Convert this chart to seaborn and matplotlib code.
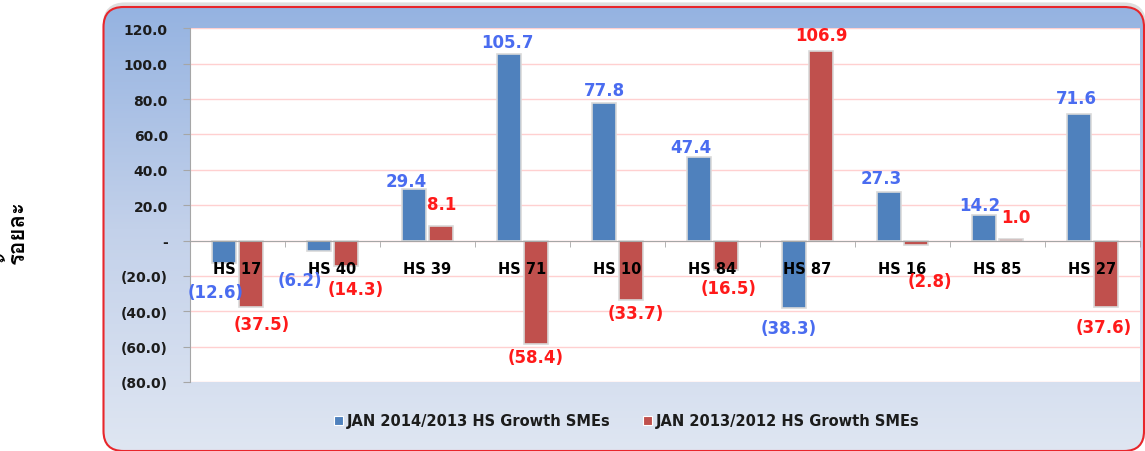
"""
plot.py
-------
SME export growth by HS code, January 2014/2013 vs 2013/2012.
"""

import matplotlib.pyplot as plt
import numpy as np
import pandas as pd
import seaborn as sns
from matplotlib import font_manager
from matplotlib.colors import LinearSegmentedColormap
from matplotlib.ft2font import FT2Font
from matplotlib.patches import FancyBboxPatch, Patch

CODES = ["HS 17", "HS 40", "HS 39", "HS 71", "HS 10", "HS 84", "HS 87", "HS 16", "HS 85", "HS 27"]
GROWTH_2014 = [-12.6, -6.2, 29.4, 105.7, 77.8, 47.4, -38.3, 27.3, 14.2, 71.6]
GROWTH_2013 = [-37.5, -14.3, 8.1, -58.4, -33.7, -16.5, 106.9, -2.8, 1.0, -37.6]
SERIES = ["JAN 2014/2013 HS Growth SMEs", "JAN 2013/2012 HS Growth SMEs"]
Y_TICKS = [-80, -60, -40, -20, 0, 20, 40, 60, 80, 100, 120]
Y_LABEL = "ร้อยละ"

BAR_COLORS = ["#4f81bd", "#c0504d"]
LABEL_COLORS = ["#4a6cf0", "#ff1a1a"]
TEXT_COLOR = "#1c1c1c"

# label nudges in pixels (dx, dy) from the bar end, Excel-style overlap dodging
LABEL_OFFSETS = [
    [(-8, -29), (-19, -29), (-8, 8), (-2, 12), (0, 13), (-8, 10), (-5, -20), (-8, 14), (-4, 10), (-3, 16)],
    [(11, -17), (10, -23), (1, 22), (0, -13), (5, -13), (3, -18), (0, 16), (14, -36), (5, 22), (-2, -20)],
]

W, H = 1145, 452


def _fmt(v: float) -> str:
    if v == 0:
        return "-"
    return f"({abs(v):.1f})" if v < 0 else f"{v:.1f}"


def _thai_font() -> str:
    for f in font_manager.fontManager.ttflist:
        try:
            if 0x0E23 in FT2Font(f.fname).get_charmap():
                return f.name
        except Exception:
            continue
    return "DejaVu Sans"


df = pd.DataFrame({
    "code":   CODES * 2,
    "series": [SERIES[0]] * len(CODES) + [SERIES[1]] * len(CODES),
    "value":  GROWTH_2014 + GROWTH_2013,
})

fig = plt.figure(figsize=(W / 100, H / 100), dpi=100)

# Background: rounded red-bordered panel with a vertical blue gradient
bg = fig.add_axes([0, 0, 1, 1], zorder=-1)
bg.axis("off")
box = FancyBboxPatch((103.5, 8), 1040.5, 444, boxstyle="round,pad=0,rounding_size=20",
                     fc="none", ec="#e8262b", lw=1.5, zorder=3)
shadow = FancyBboxPatch((105, 5.5), 1039, 444, boxstyle="round,pad=0,rounding_size=20",
                        fc="none", ec="#c8c8c8", lw=3, alpha=0.6, zorder=0)
grad_cmap = LinearSegmentedColormap.from_list("panel", ["#95b3e1", "#c3d1ea", "#dfe6f2"])
img = bg.imshow(np.linspace(0, 1, 256)[:, None], extent=(103.5, 1144, 452, 8),
                cmap=grad_cmap, aspect="auto", zorder=1)
bg.add_patch(shadow)
bg.add_patch(box)
img.set_clip_path(box)
bg.set_xlim(0, W)
bg.set_ylim(H, 0)

# Plot area
ax = fig.add_axes([190 / W, (H - 383) / H, 950 / W, 353.7 / H])
ax.set_facecolor("white")
sns.barplot(data=df, x="code", y="value", hue="series", order=CODES, hue_order=SERIES,
            palette=dict(zip(SERIES, BAR_COLORS)), saturation=1, width=0.57, gap=0.08,
            edgecolor="#d9d9d9", linewidth=1.2, errorbar=None, legend=False, ax=ax)

ax.set_ylim(-80, 120)
ax.set_yticks(Y_TICKS)
ax.set_yticklabels([_fmt(v) for v in Y_TICKS], fontsize=10, fontweight="bold", color=TEXT_COLOR)
ax.yaxis.grid(True, color="#ffd0d0", lw=1)
ax.set_axisbelow(True)
ax.tick_params(axis="y", length=5, color="#a6a6a6", pad=11)

ax.set_xticks(range(len(CODES)))
ax.set_xticklabels([])
ax.set_xticks(np.arange(-0.5, len(CODES), 1), minor=True)
ax.tick_params(axis="x", which="major", length=0)
ax.tick_params(axis="x", which="minor", length=4, color="#a6a6a6", direction="out")
ax.set_xlim(-0.5, len(CODES) - 0.5)

for side in ["top", "right"]:
    ax.spines[side].set_visible(False)
ax.spines["left"].set_color("#a6a6a6")
ax.spines["bottom"].set_color("#a6a6a6")
ax.spines["bottom"].set_position(("data", 0))
ax.set_xlabel("")
ax.set_ylabel("")

# Category labels sit just under the zero line, on top of the bars
for i, code in enumerate(CODES):
    ax.annotate(code, (i, 0), xytext=(0, -28), textcoords="offset pixels", ha="center",
                va="center", fontsize=10.5, fontweight="bold", color="black", zorder=6)

# Value labels
for container, values, color, offsets in zip(ax.containers, [GROWTH_2014, GROWTH_2013],
                                             LABEL_COLORS, LABEL_OFFSETS):
    for bar, v, (dx, dy) in zip(container, values, offsets):
        x = bar.get_x() + bar.get_width() / 2
        ax.annotate(_fmt(v), (x, v), xytext=(dx, dy), textcoords="offset pixels",
                    ha="center", va="center", fontsize=12, fontweight="bold",
                    color=color, zorder=7)

handles = [Patch(fc=c, ec="white", lw=0.8) for c in BAR_COLORS]
fig.legend(handles, SERIES, loc="center", bbox_to_anchor=(627 / W, (H - 422) / H), ncol=2,
           frameon=False, prop={"weight": "bold", "size": 10.5}, labelcolor=TEXT_COLOR,
           handlelength=0.6, handleheight=0.6, handletextpad=0.3, columnspacing=2.2)

fig.text(16 / W, (H - 232) / H, Y_LABEL, rotation=90, ha="center", va="center",
         fontsize=16, fontweight="bold", family=[_thai_font(), "DejaVu Sans"], color="black")

fig.savefig("out.png", dpi=100)
